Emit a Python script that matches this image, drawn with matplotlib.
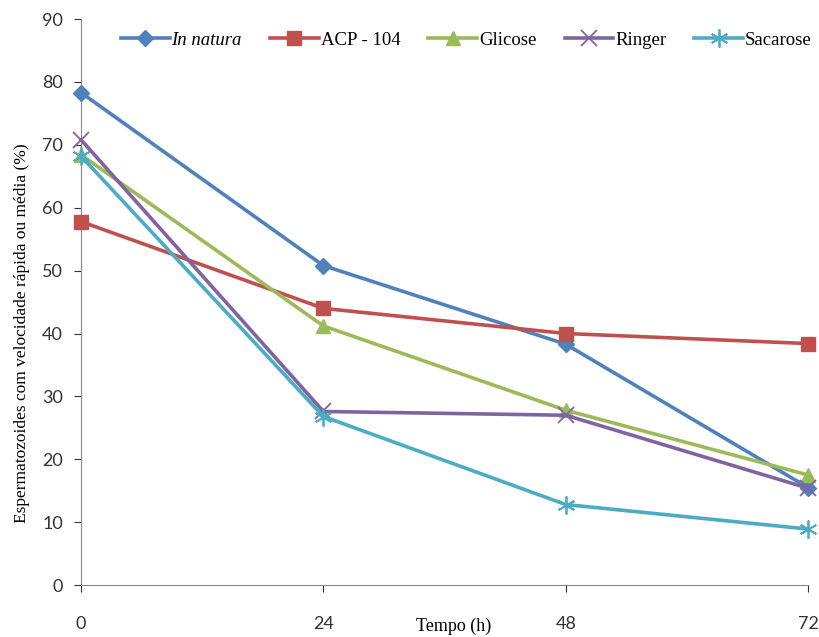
import matplotlib.pyplot as plt

# data
tempo = [0, 24, 48, 72]
in_natura = [78.3, 50.8, 38.3, 15.5]
acp_104 = [57.8, 44.0, 40.0, 38.4]
glicose = [68.4, 41.2, 27.8, 17.5]
ringer = [70.8, 27.6, 27.0, 15.4]
sacarose = [68.2, 26.8, 12.8, 8.9]

series = [
    ("In natura", in_natura, "#4F81BD", "D", 8),
    ("ACP - 104", acp_104, "#C0504D", "s", 10),
    ("Glicose", glicose, "#9BBB59", "^", 10),
    ("Ringer", ringer, "#8064A2", "x", 11),
    ("Sacarose", sacarose, "#4BACC6", (6, 2, 0), 13),
]

fig = plt.figure(figsize=(8.19, 6.37), dpi=100)
ax = fig.add_axes([0.099, 0.0816, 0.8876, 0.8884])

for name, vals, col, mk, ms in series:
    ax.plot(tempo, vals, color=col, lw=2.6, marker=mk, markersize=ms,
            markeredgewidth=1.0 if mk in ("D", "s", "^") else 1.3,
            markeredgecolor=col, label=name, clip_on=False, zorder=3)

ax.set_xlim(0, 72)
ax.set_ylim(0, 90)
ax.set_xticks(tempo)
ax.set_yticks(range(0, 91, 10))
ax.tick_params(labelsize=13, colors="#333333", length=5, pad=8)
ax.tick_params(axis="x", pad=17)
for s in ["top", "right"]:
    ax.spines[s].set_visible(False)
for s in ["left", "bottom"]:
    ax.spines[s].set_color("#888888")
for lab in ax.get_xticklabels() + ax.get_yticklabels():
    lab.set_fontfamily("Lato")

leg = ax.legend(loc="upper center", bbox_to_anchor=(0.53, 1.008), ncol=5,
                frameon=False, prop={"family": "Liberation Serif", "size": 13.5},
                handlelength=2.6, columnspacing=1.5, handletextpad=0.1)
leg.get_texts()[0].set_fontstyle("italic")

# x label sits low, just under the tick labels, as in the original
fig.text(454 / 819, 1 - 626 / 637, "Tempo (h)", ha="center", va="center",
         family="Liberation Serif", fontsize=13)
fig.text(22 / 819, 1 - 333 / 637, "Espermatozoides com velocidade rápida ou média (%)",
         ha="center", va="center", rotation=90, family="Liberation Serif", fontsize=12.5)

fig.savefig("out.png", dpi=100)
